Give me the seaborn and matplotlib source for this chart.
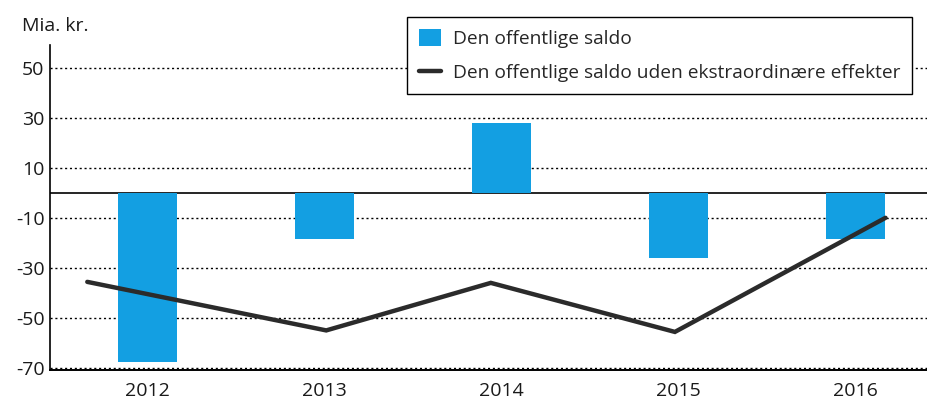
import pandas as pd
import matplotlib.pyplot as plt
import seaborn as sns

sns.set_style("white")
plt.rcParams['font.family'] = ['Open Sans', 'DejaVu Sans']
plt.rcParams['axes.unicode_minus'] = False

# data (Mia. kr.)
years = ['2012', '2013', '2014', '2015', '2016']
saldo = [-67.5, -18.3, 28.0, -26.0, -18.3]
saldo_uden = [-35.6, -55.0, -36.0, -55.6, -10.0]
# the line is drawn slightly off the category centres in the original
line_pos = [-0.34, 1.01, 1.94, 2.98, 4.17]
yticks = [-70, -50, -30, -10, 10, 30, 50]

bar_color = '#139fe2'
line_color = '#2b2b2b'

df = pd.DataFrame({'year': years, 'saldo': saldo})

fig = plt.figure(figsize=(9.28, 4.03), dpi=100)
ax = fig.add_axes([0.054, 0.082, 0.946, 0.806])

# grid + zero line
for t in yticks:
    ax.axhline(t, color='black', lw=1.0, ls=(0, (1.5, 2.0)), zorder=0)
ax.axhline(0, color='black', lw=1.2, zorder=1)

sns.barplot(data=df, x='year', y='saldo', color=bar_color, width=0.333,
            saturation=1, linewidth=0, edgecolor=bar_color, ax=ax, zorder=2)
bars = ax.patches[0]
line, = ax.plot(line_pos, saldo_uden, color=line_color, lw=3.2, zorder=3,
                solid_capstyle='round', solid_joinstyle='miter')

ax.set_xlim(-0.55, 4.41)
ax.set_ylim(-70.8, 59)
ax.set_yticks(yticks)
ax.set_xlabel('')
ax.set_ylabel('')

ax.tick_params(axis='both', length=0, labelsize=14, colors='#1a1a1a')
ax.tick_params(axis='y', pad=4)
ax.tick_params(axis='x', pad=9)

for s in ['top', 'right']:
    ax.spines[s].set_visible(False)
ax.spines['left'].set_color('black')
ax.spines['left'].set_linewidth(1.2)
ax.spines['bottom'].set_color('black')
ax.spines['bottom'].set_linewidth(1.4)

leg = ax.legend([bars, line],
                ['Den offentlige saldo',
                 'Den offentlige saldo uden ekstraordinære effekter'],
                loc='upper right', bbox_to_anchor=(0.982, 1.086),
                borderaxespad=0, frameon=True, fancybox=False,
                fontsize=13.8, handlelength=1.15, handleheight=1.0,
                handletextpad=0.65, labelspacing=0.8, borderpad=0.6)
leg.get_frame().set_edgecolor('black')
leg.get_frame().set_linewidth(1.0)
leg.get_frame().set_alpha(1)
leg.set_zorder(5)

fig.text(0.024, 0.935, 'Mia. kr.', fontsize=14, color='#1a1a1a',
         ha='left', va='center')

plt.savefig('out.png', dpi=100)
